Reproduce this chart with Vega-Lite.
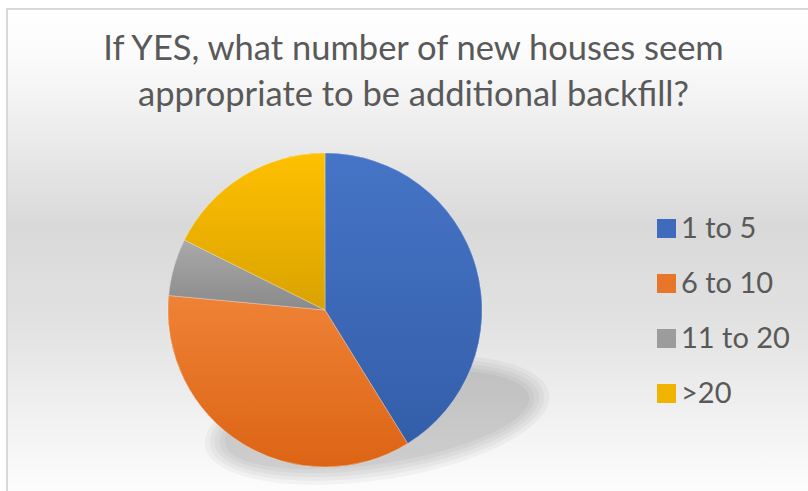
{
  "$schema": "https://vega.github.io/schema/vega-lite/v6.json",
  "autosize": {"type": "none"},
  "padding": {"left": 7, "top": 9, "right": 0, "bottom": 0},
  "width": 803,
  "height": 484,
  "background": "#ffffff",
  "title": {
    "text": ["If YES, what number of new houses seem", "appropriate to be additional backfill?"],
    "font": "Lato",
    "fontSize": 34.5,
    "fontWeight": "normal",
    "color": "#595959",
    "lineHeight": 46,
    "anchor": "middle",
    "frame": "group",
    "orient": "top",
    "baseline": "top",
    "offset": -105,
    "dx": 5
  },
  "datasets": {
    "answers": [
      {"category": "1 to 5", "count": 7, "rank": 1},
      {"category": "6 to 10", "count": 6, "rank": 2},
      {"category": "11 to 20", "count": 1, "rank": 3},
      {"category": ">20", "count": 3, "rank": 4}
    ],
    "frame": [{"part": "background"}]
  },
  "layer": [
    {
      "data": {"name": "frame"},
      "mark": {
        "type": "rect",
        "stroke": "#d9d9d9",
        "strokeWidth": 2,
        "fill": {
          "gradient": "linear", "x1": 0, "y1": 0, "x2": 0, "y2": 1,
          "stops": [
            {"offset": 0, "color": "#ffffff"},
            {"offset": 0.1, "color": "#fbfbfb"},
            {"offset": 0.45, "color": "#d9d9d9"},
            {"offset": 0.65, "color": "#e2e2e2"},
            {"offset": 1, "color": "#fdfdfd"}
          ]
        }
      },
      "encoding": {
        "x": {"value": 0},
        "x2": {"value": "width"},
        "y": {"value": 0},
        "y2": {"value": "height"}
      }
    },
    {
      "data": {"name": "frame"},
      "mark": {"type": "point", "shape": "M -1 0 A 1 0.345 0 1 0 1 0 A 1 0.345 0 1 0 -1 0 Z", "size": 121104, "x": 370, "y": 411, "angle": -8.7, "filled": true, "color": "#000000", "opacity": 0.035},
      "encoding": {}
    },
    {
      "data": {"name": "frame"},
      "mark": {"type": "point", "shape": "M -1 0 A 1 0.331 0 1 0 1 0 A 1 0.331 0 1 0 -1 0 Z", "size": 114244, "x": 370, "y": 411, "angle": -8.7, "filled": true, "color": "#000000", "opacity": 0.035},
      "encoding": {}
    },
    {
      "data": {"name": "frame"},
      "mark": {"type": "point", "shape": "M -1 0 A 1 0.317 0 1 0 1 0 A 1 0.317 0 1 0 -1 0 Z", "size": 107584, "x": 370, "y": 411, "angle": -8.7, "filled": true, "color": "#000000", "opacity": 0.035},
      "encoding": {}
    },
    {
      "data": {"name": "frame"},
      "mark": {"type": "point", "shape": "M -1 0 A 1 0.302 0 1 0 1 0 A 1 0.302 0 1 0 -1 0 Z", "size": 101124, "x": 370, "y": 411, "angle": -8.7, "filled": true, "color": "#000000", "opacity": 0.035},
      "encoding": {}
    },
    {
      "data": {"name": "frame"},
      "mark": {"type": "point", "shape": "M -1 0 A 1 0.286 0 1 0 1 0 A 1 0.286 0 1 0 -1 0 Z", "size": 94864, "x": 370, "y": 411, "angle": -8.7, "filled": true, "color": "#000000", "opacity": 0.035},
      "encoding": {}
    },
    {
      "data": {"name": "answers"},
      "mark": {"type": "arc", "outerRadius": 157, "x": 318, "y": 301},
      "encoding": {
        "theta": {"field": "count", "type": "quantitative", "stack": true},
        "order": {"field": "rank", "type": "quantitative"},
        "color": {
          "field": "category",
          "type": "nominal",
          "sort": null,
          "scale": {
            "domain": ["1 to 5", "6 to 10", "11 to 20", ">20"],
            "range": ["#3f6bbc", "#e8762a", "#9c9c9c", "#f0b400"]
          },
          "legend": {
            "title": null,
            "orient": "none",
            "legendX": 645,
            "legendY": 205,
            "symbolType": "square",
            "symbolSize": 361,
            "symbolStrokeWidth": 0,
            "symbolOpacity": 1,
            "labelFont": "Lato",
            "labelFontSize": 29,
            "labelColor": "#595959",
            "labelOffset": 0,
            "rowPadding": 25,
            "padding": 0
          }
        }
      }
    },
    {
      "data": {"name": "answers"},
      "mark": {"type": "arc", "outerRadius": 157, "x": 318, "y": 301, "stroke": "#ffffff", "strokeWidth": 0.5, "strokeOpacity": 0.6},
      "encoding": {
        "theta": {"field": "count", "type": "quantitative", "stack": true},
        "order": {"field": "rank", "type": "quantitative"},
        "fill": {
          "condition": [
            {"test": "datum.category === '1 to 5'", "value": {"gradient": "linear", "x1": 0, "y1": 0, "x2": 0, "y2": 1, "stops": [{"offset": 0, "color": "#4674c6"}, {"offset": 1, "color": "#335ea9"}]}},
            {"test": "datum.category === '6 to 10'", "value": {"gradient": "linear", "x1": 0, "y1": 0, "x2": 0, "y2": 1, "stops": [{"offset": 0, "color": "#ef8236"}, {"offset": 1, "color": "#dc6415"}]}},
            {"test": "datum.category === '11 to 20'", "value": {"gradient": "linear", "x1": 0, "y1": 0, "x2": 0, "y2": 1, "stops": [{"offset": 0, "color": "#a9a9a9"}, {"offset": 1, "color": "#8a8a8a"}]}}
          ],
          "value": {"gradient": "linear", "x1": 0, "y1": 0, "x2": 0, "y2": 1, "stops": [{"offset": 0, "color": "#ffc000"}, {"offset": 1, "color": "#d9a200"}]}
        }
      }
    }
  ],
  "config": {
    "view": {"stroke": null}
  }
}
